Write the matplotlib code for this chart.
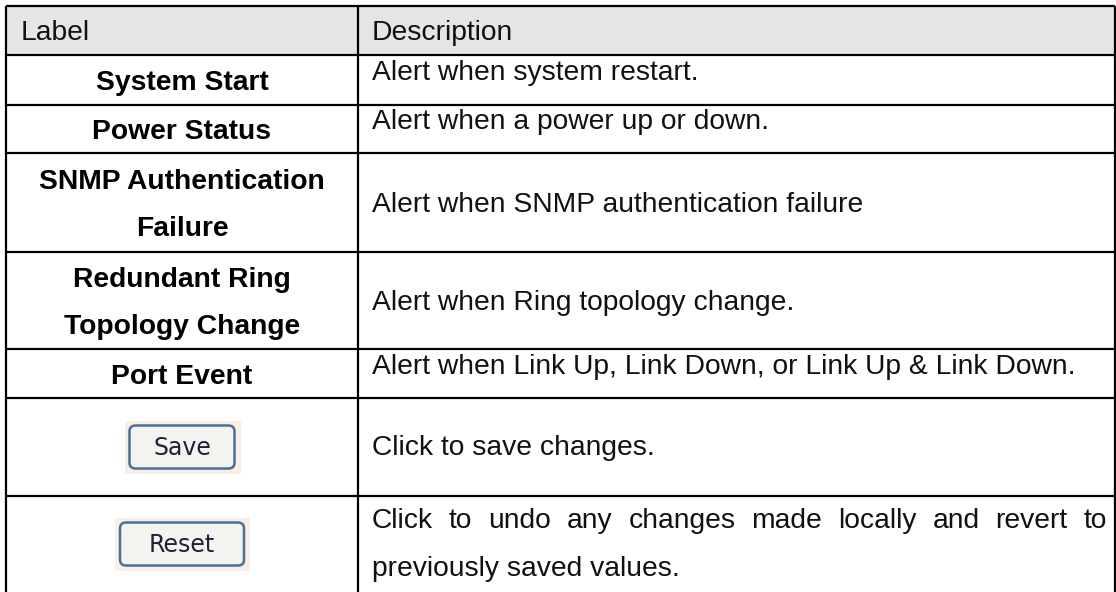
import matplotlib.pyplot as plt
from matplotlib.patches import Rectangle, FancyBboxPatch

# table content
header = ["Label", "Description"]
labels = [["System Start"],
          ["Power Status"],
          ["SNMP Authentication", "Failure"],
          ["Redundant Ring", "Topology Change"],
          ["Port Event"]]
descriptions = ["Alert when system restart.",
                "Alert when a power up or down.",
                "Alert when SNMP authentication failure",
                "Alert when Ring topology change.",
                "Alert when Link Up, Link Down, or Link Up & Link Down."]
buttons = ["Save", "Reset"]
button_descs = [["Click to save changes."],
                ["Click to undo any changes made locally and revert to",
                 "previously saved values."]]

# layout in pixels
W, H = 1116, 592
x_left, x_div, x_right = 6, 358, 1115
row_edges = [6, 55, 105, 153, 252, 349, 398, 496, 640]
fs = 20.3
line_gap = 47
txt_x = 372
lw = 1.6

fig = plt.figure(figsize=(W / 100, H / 100), dpi=100)
ax = fig.add_axes([0, 0, 1, 1])
ax.set_xlim(0, W)
ax.set_ylim(H, 0)
ax.axis("off")

font = "Liberation Sans"

# header
ax.add_patch(Rectangle((x_left, row_edges[0]), x_right - x_left,
                       row_edges[1] - row_edges[0], facecolor="#e5e5e5", edgecolor="none"))
hc = (row_edges[0] + row_edges[1]) / 2
ax.text(21, hc + 10, header[0], fontsize=fs, family=font, va="baseline", color="#111111")
ax.text(txt_x, hc + 10, header[1], fontsize=fs, family=font, va="baseline", color="#111111")

# grid lines
for y in row_edges[:-1]:
    ax.plot([x_left, x_right], [y, y], color="black", lw=lw, solid_capstyle="butt")
for x in (x_left, x_div, x_right):
    ax.plot([x, x], [row_edges[0], H + 5], color="black", lw=lw, solid_capstyle="butt")

lab_cx = (x_left + x_div) / 2

# label rows
for i, (lab, desc) in enumerate(zip(labels, descriptions)):
    top, bot = row_edges[i + 1], row_edges[i + 2]
    c = (top + bot) / 2
    n = len(lab)
    for j, line in enumerate(lab):
        cy = c + (j - (n - 1) / 2) * line_gap
        ax.text(lab_cx, cy + 10, line, fontsize=fs, family=font, weight="bold",
                ha="center", va="baseline", color="black")
    dy = 0 if n == 1 else 9
    ax.text(txt_x, c + dy, desc, fontsize=fs, family=font, va="baseline", color="#111111")

fig.canvas.draw()
renderer = fig.canvas.get_renderer()


def justify(words, y, x0, x1):
    arts = [ax.text(0, y, w, fontsize=fs, family=font, va="baseline", color="#111111")
            for w in words]
    widths = []
    for a in arts:
        bb = a.get_window_extent(renderer)
        widths.append(bb.width)
    gap = (x1 - x0 - sum(widths)) / (len(words) - 1)
    x = x0
    for a, wd in zip(arts, widths):
        a.set_x(x)
        x += wd + gap


# button rows
btn_w = [105, 124]
btn_h = 43
for i, (b, bd) in enumerate(zip(buttons, button_descs)):
    k = len(labels) + 1 + i
    top, bot = row_edges[k], row_edges[k + 1]
    c = (top + bot) / 2 if i == 0 else top + 48
    bw = btn_w[i]
    ax.add_patch(Rectangle((lab_cx - bw / 2 - 5, c - btn_h / 2 - 5), bw + 11, btn_h + 10,
                           facecolor="#f8efe6", edgecolor="none"))
    ax.add_patch(FancyBboxPatch((lab_cx - bw / 2 + 1, c - btn_h / 2 + 1), bw, btn_h,
                                boxstyle="round,pad=0,rounding_size=6",
                                facecolor="#c9c9c0", edgecolor="none"))
    ax.add_patch(FancyBboxPatch((lab_cx - bw / 2, c - btn_h / 2), bw, btn_h,
                                boxstyle="round,pad=0,rounding_size=6",
                                facecolor="#f3f3ef", edgecolor="#4d7099", lw=1.8))
    ax.text(lab_cx, c + 1, b, fontsize=17, family="DejaVu Sans", ha="center",
            va="center", color="#20203a")
    n = len(bd)
    for j, line in enumerate(bd):
        cy = c + (j - (n - 1) / 2) * 47
        if j < n - 1:
            justify(line.split(), cy + 8, txt_x, 1107)
        else:
            ax.text(txt_x, cy + 8, line, fontsize=fs, family=font, va="baseline",
                    color="#111111")

fig.savefig("out.png", dpi=100)
